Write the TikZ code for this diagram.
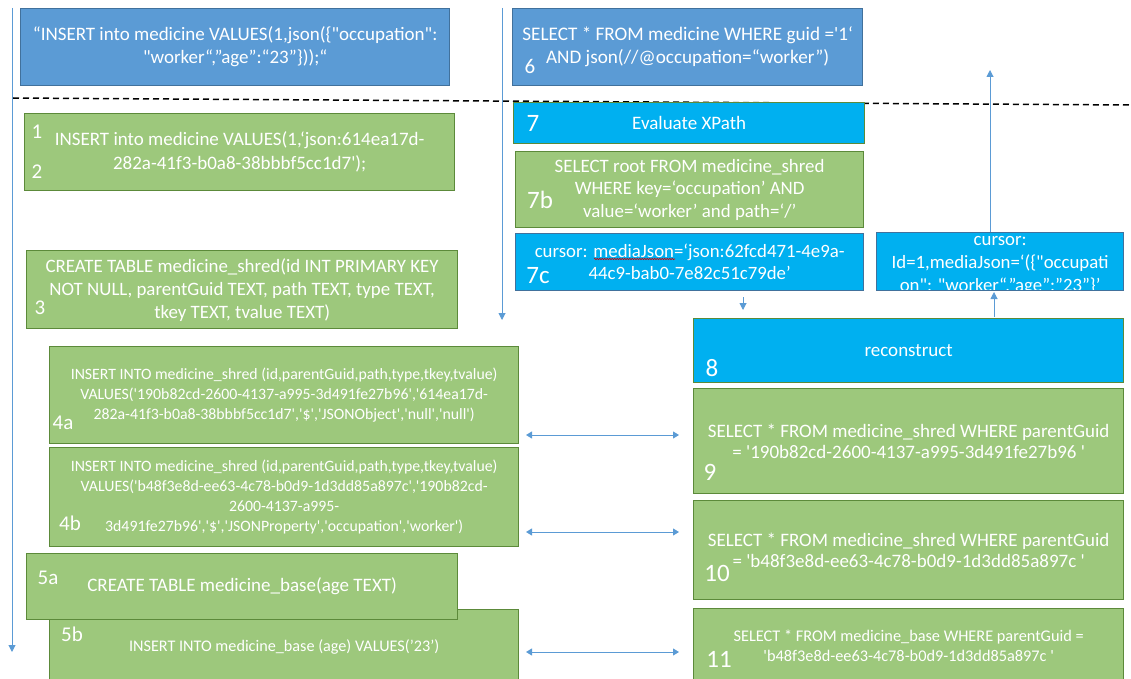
\documentclass[tikz,border=0pt]{standalone}
\usepackage{fontspec}
\setmainfont{Carlito}[Ligatures=TeXOff]
\usetikzlibrary{arrows.meta,positioning,decorations.pathmorphing}

\definecolor{blueoff}{RGB}{91,155,213}
\definecolor{bluedark}{RGB}{65,113,156}
\definecolor{greenoff}{RGB}{157,200,124}
\definecolor{greenedge}{RGB}{92,138,58}
\definecolor{cyanoff}{RGB}{0,176,240}
\definecolor{lineblue}{RGB}{91,155,213}

\newcommand{\fsz}[2]{\fontsize{#1}{#2}\selectfont}

\tikzset{
  box/.style={rectangle, text=white, align=center, inner sep=0pt, line width=1.3pt, anchor=north west},
  wh/.style 2 args={minimum width=#1pt, minimum height=#2pt},
  bluebox/.style={box, draw=bluedark, fill=blueoff},
  greenbox/.style={box, draw=greenedge, fill=greenoff},
  cyanbox/.style={box, draw=greenedge, fill=cyanoff},
  cyanboxb/.style={box, draw=bluedark, fill=cyanoff},
  num/.style={text=white, inner sep=0pt, font=\fsz{21}{21}},
  bignum/.style={num, font=\fsz{25}{25}},
  flow/.style={draw=lineblue, line width=1pt, -{Triangle[width=7pt,length=7pt]}},
  both/.style={draw=lineblue, line width=1pt, {Triangle[width=7pt,length=6pt]}-{Triangle[width=7pt,length=6pt]}},
  sepline/.style={draw=black, line width=1.5pt, dash pattern=on 6pt off 4pt},
  squiggle/.style={draw=red!80!black, line width=0.6pt, decorate, decoration={snake, amplitude=0.7pt, segment length=2.5pt}},
}

\begin{document}
\begin{tikzpicture}[x=1pt,y=-1pt]
        \useasboundingbox (0,0) rectangle (1131,679);
        % separator
        \coordinate (sepL) at (13,98); %
        \coordinate (sepR) at (1131,105); %
        \draw[sepline] (sepL) -- (sepR);
        % time lines
        \coordinate (lefttop) at (12,8); %
        \coordinate (leftend) at (12,652); %
        \coordinate (midtop) at (502,8); %
        \coordinate (midend) at (502,320); %
        \draw[flow] (lefttop) -- (leftend);
        \draw[flow] (midtop) -- (midend);

        % Define nodes
        % insert side
        \node[bluebox, wh={429}{77}, font=\fsz{19}{23}](ins) at (20,8) {“INSERT into medicine VALUES(1,json(\{"occupation":\\"worker“,”age”:“23”\}));“}; %
        \node[greenbox, wh={430}{77}, font=\fsz{19}{24}](s12) at (24,113) {INSERT into medicine VALUES(1,‘json:614ea17d-\\282a-41f3-b0a8-38bbbf5cc1d7');}; %
        \node[greenbox, wh={431}{78}, font=\fsz{18.9}{23}](s3) at (26,250) {CREATE TABLE medicine\_shred(id INT PRIMARY KEY\\NOT NULL, parentGuid TEXT, path TEXT, type TEXT,\\tkey TEXT, tvalue TEXT)}; %
        \node[greenbox, wh={469}{97}, font=\fsz{15.8}{20}](s4a) at (49,346) {INSERT INTO medicine\_shred (id,parentGuid,path,type,tkey,tvalue)\\VALUES('190b82cd-2600-4137-a995-3d491fe27b96','614ea17d-\\282a-41f3-b0a8-38bbbf5cc1d7','\$','JSONObject','null','null')}; %
        \node[greenbox, wh={469}{99}, font=\fsz{15.8}{20}](s4b) at (49,447) {INSERT INTO medicine\_shred (id,parentGuid,path,type,tkey,tvalue)\\VALUES('b48f3e8d-ee63-4c78-b0d9-1d3dd85a897c','190b82cd-\\2600-4137-a995-\\3d491fe27b96','\$','JSONProperty','occupation','worker')}; %
        \node[greenbox, wh={469}{74}, font=\fsz{16.2}{19}](s5b) at (49,609) {INSERT INTO medicine\_base (age) VALUES(’23’)}; %
        \node[greenbox, wh={431}{66}, font=\fsz{19}{22}](s5a) at (26,553) {CREATE TABLE medicine\_base(age TEXT)}; %

        % query side
        \node[bluebox, wh={350}{77}, font=\fsz{19.2}{23}](qry) at (512,8) {SELECT * FROM medicine WHERE guid ='1‘\\AND json(//@occupation=“worker”)}; %
        \node[cyanbox, wh={351}{41}, font=\fsz{19}{22}](s7) at (513,102) {Evaluate XPath}; %
        \node[greenbox, wh={348}{76}, font=\fsz{18.9}{22.5}](s7b) at (515,151) {SELECT root FROM medicine\_shred\\WHERE key=‘occupation’ AND\\value=‘worker’ and path=‘/’}; %
        \node[cyanboxb, wh={348}{57}, font=\fsz{18.8}{22}](s7c) at (515,233) {cursor: mediaJson=‘json:62fcd471-4e9a-\\44c9-bab0-7e82c51c79de’}; %
        \node[cyanboxb, wh={247}{58}, path picture={\node[anchor=center, text=white, align=center, inner sep=0pt, font=\fsz{18.8}{23}] at ([yshift=-4pt]path picture bounding box.center) {cursor:\\Id=1,mediaJson=‘(\{"occupati\\on": "worker“,”age”:”23”\}’};}](cur) at (876,232) {}; %
        \node[cyanbox, wh={430}{64}, font=\fsz{19}{22}](s8) at (693,318) {reconstruct}; %
        \node[greenbox, wh={430}{105}, font=\fsz{19}{21.5}](s9) at (693,388) {SELECT * FROM medicine\_shred WHERE parentGuid\\= '190b82cd-2600-4137-a995-3d491fe27b96 '}; %
        \node[greenbox, wh={430}{99}, font=\fsz{19}{21.5}](s10) at (693,500) {SELECT * FROM medicine\_shred WHERE parentGuid\\= 'b48f3e8d-ee63-4c78-b0d9-1d3dd85a897c '}; %
        \node[greenbox, wh={430}{74}, font=\fsz{16.3}{20}](s11) at (693,608) {SELECT * FROM medicine\_base WHERE parentGuid =\\'b48f3e8d-ee63-4c78-b0d9-1d3dd85a897c '}; %

        % spell-check mark under mediaJson
        \coordinate (sqA) at (594,259); %
        \coordinate (sqB) at (675,259); %
        \draw[squiggle] (sqA) -- (sqB);

        % step numbers
        \node[num](n1) at (37,132) {1}; %
        \node[num](n2) at (37,172) {2}; %
        \node[num](n3) at (40,308) {3}; %
        \node[num](n4a) at (63,423) {4a}; %
        \node[num](n4b) at (70,523) {4b}; %
        \node[num](n5a) at (48,578) {5a}; %
        \node[num](n5b) at (72,634) {5b}; %
        \node[num](n6) at (530,66) {6}; %
        \node[bignum](n7) at (533,123) {7}; %
        \node[bignum](n7b) at (540,200) {7b}; %
        \node[bignum](n7c) at (538,276) {7c}; %
        \node[bignum](n8) at (712,368) {8}; %
        \node[bignum](n9) at (710,472) {9}; %
        \node[bignum](n10) at (717,573) {10}; %
        \node[bignum](n11) at (719,659) {11}; %

        % connectors
        \coordinate (topup) at (990,70); %
        \coordinate (cdown) at (743,297); %
        \coordinate (cdownend) at (743,310); %
        \coordinate (rup) at (994,317); %
        \coordinate (rupend) at (994,292); %
        \draw[flow] (topup |- cur.north) -- (topup);
        \draw[flow] (cdown) -- (cdownend);
        \draw[flow] (rup) -- (rupend);
        \coordinate (h1) at (526,435); %
        \coordinate (h2) at (526,532); %
        \coordinate (h3) at (526,652); %
        \draw[both] (h1) -- ([xshift=-14pt]h1 -| s9.west);
        \draw[both] (h2) -- ([xshift=-14pt]h2 -| s10.west);
        \draw[both] (h3) -- ([xshift=-14pt]h3 -| s11.west);
\end{tikzpicture}
\end{document}
